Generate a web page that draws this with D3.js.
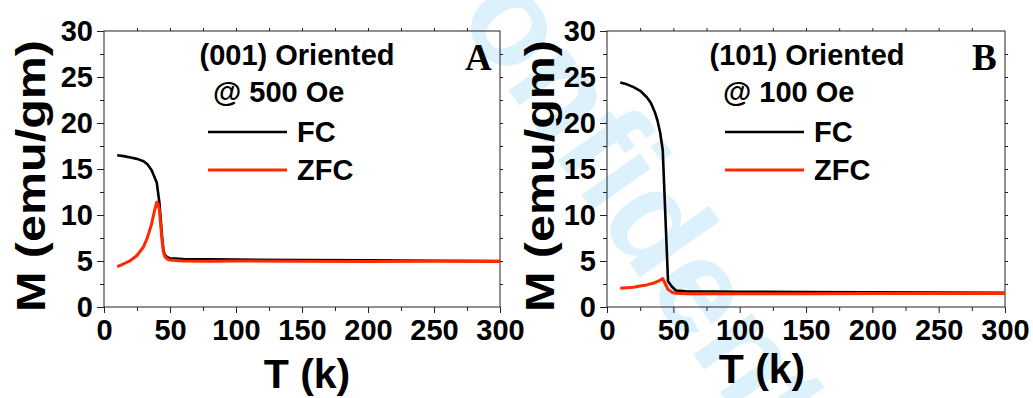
<!DOCTYPE html>
<html>
<head>
<meta charset="utf-8">
<script src="https://cdn.jsdelivr.net/npm/d3@7"></script>
<style>
  body { margin: 0; background: #fff; }
  svg { display: block; }
</style>
</head>
<body>
<script>
// M vs T curves, two film orientations
var width = 1033,
    height = 398;

// panel A : (001) oriented, 500 Oe
var tFcA  = [10, 15, 20, 25, 30, 33, 36, 38, 40, 42, 44, 45, 46, 48, 50, 60, 80, 100, 150, 200, 250, 300];
var mFcA  = [16.5, 16.4, 16.25, 16.1, 15.85, 15.5, 14.9, 14.2, 13.5, 11.3, 7.6, 6.2, 5.7, 5.4, 5.3, 5.22, 5.18, 5.15, 5.1, 5.07, 5.03, 5.0];
var tZfcA = [10, 15, 20, 25, 30, 33, 36, 38, 40, 41, 42, 43, 44, 45, 46, 48, 50, 60, 80, 100, 150, 200, 250, 300];
var mZfcA = [4.4, 4.7, 5.05, 5.6, 6.55, 7.6, 9.0, 10.3, 11.4, 11.2, 10.5, 8.8, 7.2, 6.0, 5.5, 5.2, 5.1, 5.0, 4.98, 5.0, 4.97, 4.95, 4.97, 4.95];

// panel B : (101) oriented, 100 Oe
var tFcB  = [10, 15, 20, 25, 30, 33, 36, 38, 40, 42, 46, 49, 52, 60, 80, 100, 150, 200, 250, 300];
var mFcB  = [24.4, 24.2, 23.9, 23.5, 22.8, 22.2, 21.2, 20.3, 19.0, 17.1, 2.8, 2.2, 1.8, 1.7, 1.68, 1.66, 1.62, 1.6, 1.57, 1.55];
var tZfcB = [10, 20, 25, 30, 36, 40, 42, 44, 46, 49, 52, 60, 80, 100, 150, 200, 250, 300];
var mZfcB = [2.03, 2.15, 2.28, 2.4, 2.64, 2.9, 3.1, 2.5, 1.92, 1.6, 1.49, 1.45, 1.44, 1.44, 1.45, 1.46, 1.47, 1.47];

var xTicks = [0, 50, 100, 150, 200, 250, 300];
var yTicks = [0, 5, 10, 15, 20, 25, 30];
var legendNames = ["FC", "ZFC"];
var lineColors = ["#000000", "#ff2a00"];

var panels = [
  { letter: "A", title: "(001) Oriented", field: "@ 500 Oe",
    fc: [tFcA, mFcA], zfc: [tZfcA, mZfcA],
    left: 104, right: 500, titleX: 297, fieldX: 213, legX: 208, letterX: 465,
    yLabX: 45, xLabX: 307, xLabY: 388 },
  { letter: "B", title: "(101) Oriented", field: "@ 100 Oe",
    fc: [tFcB, mFcB], zfc: [tZfcB, mZfcB],
    left: 607, right: 1005, titleX: 807, fieldX: 723, legX: 725, letterX: 972,
    yLabX: 554, xLabX: 762, xLabY: 383 }
];

var plotTop = 31, plotBottom = 307;

var svg = d3.select("body").append("svg")
    .attr("width", width)
    .attr("height", height)
    .style("font-family", "'Liberation Sans', Arial, sans-serif");

// faint watermark behind the plots
svg.append("text")
    .attr("transform", "translate(400,-65) rotate(55)")
    .style("font-size", "135px")
    .style("font-weight", "bold")
    .style("fill", "#dcf1fc")
    .text("Confidential");

panels.forEach(function(p) {
    var x = d3.scaleLinear().domain([0, 300]).range([p.left, p.right]);
    var y = d3.scaleLinear().domain([0, 30]).range([plotBottom, plotTop]);
    var g = svg.append("g");

    // minor ticks
    g.append("g").attr("transform", "translate(0," + plotBottom + ")")
        .call(d3.axisBottom(x).tickValues(d3.range(25, 300, 50)).tickSize(4).tickFormat(""));
    g.append("g").attr("transform", "translate(" + p.left + ",0)")
        .call(d3.axisLeft(y).tickValues(d3.range(2.5, 30, 5)).tickSize(4).tickFormat(""));
    g.append("g").attr("transform", "translate(0," + plotTop + ")")
        .call(d3.axisTop(x).tickValues(d3.range(25, 300, 25)).tickSize(3).tickFormat(""));
    g.append("g").attr("transform", "translate(" + p.right + ",0)")
        .call(d3.axisRight(y).tickValues(d3.range(2.5, 30, 2.5)).tickSize(3).tickFormat(""));

    // major ticks with labels
    var xa = g.append("g").attr("transform", "translate(0," + plotBottom + ")")
        .call(d3.axisBottom(x).tickValues(xTicks).tickSize(6).tickPadding(6));
    var ya = g.append("g").attr("transform", "translate(" + p.left + ",0)")
        .call(d3.axisLeft(y).tickValues(yTicks).tickSize(7).tickPadding(4));

    [xa, ya].forEach(function(a) {
        a.selectAll("text")
            .style("font-size", "29px")
            .style("font-weight", "bold")
            .style("font-family", "'Liberation Sans', Arial, sans-serif")
            .style("fill", "#000");
    });
    g.selectAll(".domain").remove();
    g.selectAll("line").attr("stroke", "#222");

    // frame
    g.append("rect")
        .attr("x", p.left).attr("y", plotTop)
        .attr("width", p.right - p.left).attr("height", plotBottom - plotTop)
        .attr("fill", "none").attr("stroke", "#222").attr("stroke-width", 1);

    var line = d3.line()
        .x(function(d) { return x(d[0]); })
        .y(function(d) { return y(d[1]); });

    [p.fc, p.zfc].forEach(function(s, i) {
        var pts = d3.zip(s[0], s[1]);
        g.append("path")
            .datum(pts)
            .attr("d", line)
            .attr("fill", "none")
            .attr("stroke", lineColors[i])
            .attr("stroke-width", i === 0 ? 2.6 : 3)
            .attr("stroke-linejoin", "round");
    });

    // axis titles
    g.append("text")
        .attr("transform", "translate(" + p.yLabX + ",176) rotate(-90)")
        .attr("text-anchor", "middle")
        .attr("textLength", 272)
        .attr("lengthAdjust", "spacingAndGlyphs")
        .style("font-size", "41px")
        .style("font-weight", "bold")
        .text("M (emu/gm)");
    g.append("text")
        .attr("x", p.xLabX).attr("y", p.xLabY)
        .attr("text-anchor", "middle")
        .style("font-size", "41px")
        .style("font-weight", "bold")
        .text("T (k)");

    // legend block
    g.append("text")
        .attr("x", p.titleX).attr("y", 65)
        .attr("text-anchor", "middle")
        .style("font-size", "29px").style("font-weight", "bold")
        .text(p.title);
    g.append("text")
        .attr("x", p.fieldX).attr("y", 102)
        .style("font-size", "29px").style("font-weight", "bold")
        .text(p.field);

    legendNames.forEach(function(name, i) {
        var ly = 132 + i * 38;
        g.append("line")
            .attr("x1", p.legX).attr("x2", p.legX + 79)
            .attr("y1", ly).attr("y2", ly)
            .attr("stroke", lineColors[i])
            .attr("stroke-width", i === 0 ? 2.6 : 3);
        g.append("text")
            .attr("x", p.legX + 89).attr("y", ly + 10)
            .style("font-size", "29px").style("font-weight", "bold")
            .text(name);
    });

    g.append("text")
        .attr("x", p.letterX).attr("y", 70)
        .style("font-family", "'Liberation Serif', 'Times New Roman', serif")
        .style("font-size", "37px").style("font-weight", "bold")
        .text(p.letter);
});
</script>
</body>
</html>
